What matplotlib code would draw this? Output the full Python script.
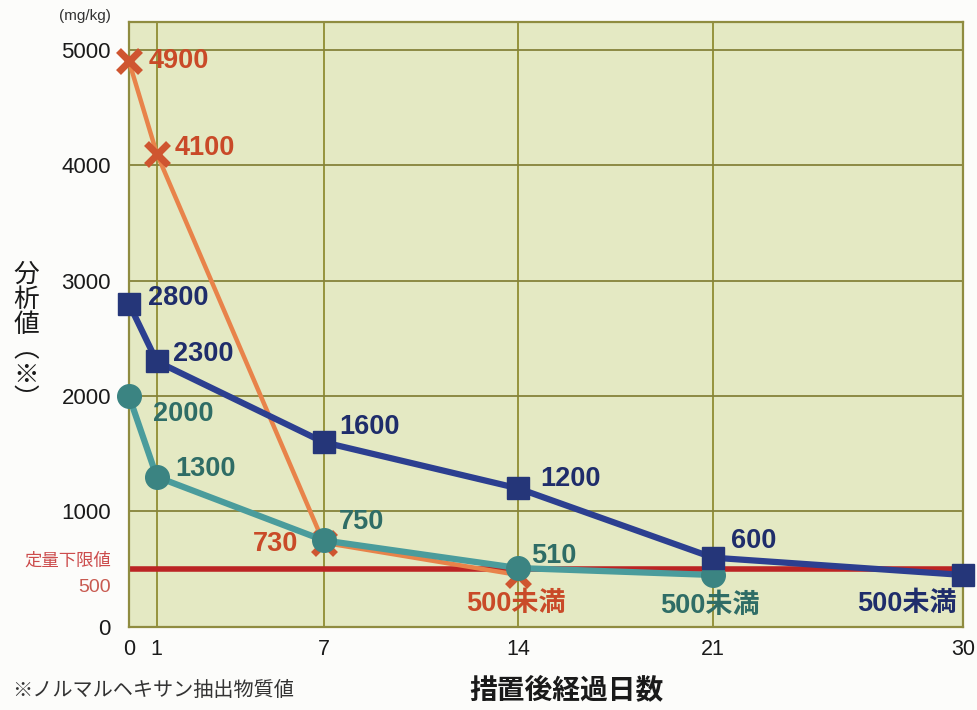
import matplotlib
matplotlib.use('Agg')
import matplotlib.pyplot as plt

plt.rcParams['font.family'] = ['Noto Sans CJK JP', 'DejaVu Sans']
NUM_FONT = ['Liberation Sans', 'Noto Sans CJK JP']

# 経過日数
days = [0, 1, 7, 14, 21, 30]

# 各系列の分析値 (mg/kg)。「500未満」は450として描く
orange_days = [0, 1, 7, 14]
orange_vals = [4900, 4100, 730, 450]
orange_text = ['4900', '4100', '730', '500未満']

navy_days = [0, 1, 7, 14, 21, 30]
navy_vals = [2800, 2300, 1600, 1200, 600, 450]
navy_text = ['2800', '2300', '1600', '1200', '600', '500未満']

teal_days = [0, 1, 7, 14, 21]
teal_vals = [2000, 1300, 750, 510, 450]
teal_text = ['2000', '1300', '750', '510', '500未満']

# 定量下限値
limit = 500
y_ticks = [0, 1000, 2000, 3000, 4000, 5000]

fig = plt.figure(figsize=(9.77, 7.10), dpi=100, facecolor='#fcfcfa')
ax = fig.add_axes([0.132, 0.117, 0.854, 0.852])
ax.set_facecolor('#e4e9c3')

ax.set_xlim(0, 30)
ax.set_ylim(0, 5240)

# 目盛線
for d in days[1:-1]:
    ax.axvline(d, color='#8f8c32', lw=1.3, zorder=1)
for y in y_ticks[1:]:
    ax.axhline(y, color='#85833a', lw=1.3, zorder=1)
for s in ax.spines.values():
    s.set_color('#8f8c40')
    s.set_linewidth(1.6)

# 定量下限値ライン
ax.axhline(limit, color='#bb2424', lw=4, zorder=2)

ax.plot(orange_days, orange_vals, color='#e8834a', lw=3.2, zorder=3, clip_on=False)
ax.plot(orange_days, orange_vals, ls='none', marker='x', ms=16, mew=5,
        color='#cf5530', zorder=4, clip_on=False)
ax.plot(teal_days, teal_vals, color='#4a9c9c', lw=4.5, marker='o', ms=17,
        mfc='#3b8482', mec='#3b8482', zorder=5, clip_on=False)
ax.plot(navy_days, navy_vals, color='#2c3f90', lw=4.5, marker='s', ms=15.5,
        mfc='#253679', mec='#253679', zorder=6, clip_on=False)

# 数値ラベル
orange_off = [(14, 0, 'left'), (13, 4, 'left'), (-18, -1, 'right'), (-2, -21, 'center')]
navy_off = [(14, 4, 'left'), (12, 5, 'left'), (11, 11, 'left'), (16, 7, 'left'),
            (13, 12, 'left'), (-5, -21, 'right')]
teal_off = [(17, -13, 'left'), (13, 6, 'left'), (11, 13, 'left'), (9, 9, 'left'),
            (-2, -22, 'center')]

for xs, ys, texts, offs, col in [
        (orange_days, orange_vals, orange_text, orange_off, '#c94a28'),
        (navy_days, navy_vals, navy_text, navy_off, '#1f2d6b'),
        (teal_days, teal_vals, teal_text, teal_off, '#2f6d66')]:
    for x, y, t, (dx, dy, ha) in zip(xs, ys, texts, offs):
        ax.annotate(t, (x, y), xytext=(dx, dy), textcoords='offset points',
                    ha=ha, va='center', fontsize=19.5, fontweight='bold',
                    family=NUM_FONT, color=col, zorder=8, annotation_clip=False)

# 軸目盛
ax.set_xticks(days)
ax.set_xticklabels([str(d) for d in days], family=NUM_FONT)
ax.set_yticks(y_ticks)
ax.set_yticklabels([str(v) for v in y_ticks], family=NUM_FONT)
ax.tick_params(axis='both', length=0, colors='#1a1a1a')
ax.tick_params(axis='y', pad=13, labelsize=16)
ax.tick_params(axis='x', pad=9, labelsize=15.5)

ax.annotate('定量下限値', (0, limit), xycoords=('axes fraction', 'data'),
            xytext=(-13, 6), textcoords='offset points', ha='right', va='center',
            fontsize=12.5, color='#cc4c4c')
ax.annotate('500', (0, limit), xycoords=('axes fraction', 'data'),
            xytext=(-13, -13), textcoords='offset points', ha='right', va='center',
            fontsize=14, family=NUM_FONT, color='#c85a50')

fig.text(0.087, 0.978, '(mg/kg)', ha='center', va='center', fontsize=11,
         family=NUM_FONT, color='#333333')
fig.text(0.027, 0.525, '分\n析\n値\n︵\n※\n︶', ha='center', va='center',
         fontsize=18.5, linespacing=0.95, color='#1a1a1a')

fig.text(0.58, 0.028, '措置後経過日数', ha='center', va='center', fontsize=20,
         fontweight='bold', color='#1a1a1a')
fig.text(0.012, 0.028, '※ノルマルヘキサン抽出物質値', ha='left', va='center',
         fontsize=14.5, color='#333333')

fig.savefig('out.png', dpi=100, facecolor=fig.get_facecolor())
